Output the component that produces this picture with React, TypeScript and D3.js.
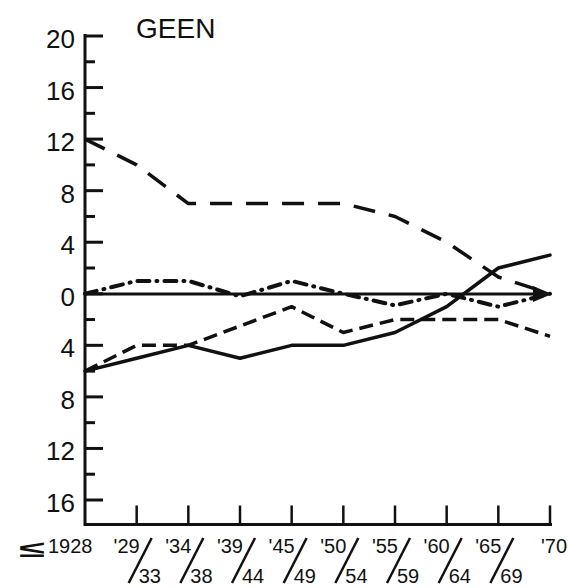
import * as d3 from "d3";

const width = 569;
const height = 588;
const axisX = 85;
const lastX = 550;
const zeroY = 294;
const bottomValue = -17.9;

// period labels along the bottom (top row / bottom row)
const periodTop = ["1928", "'29", "'34", "'39", "'45", "'50", "'55", "'60", "'65", "'70"];
const periodBottom = ["", "33", "38", "44", "49", "54", "59", "64", "69", ""];

// series (units of the y axis, negative below zero)
const longDash = [12, 10, 7, 7, 7, 7, 6, 4, 1.3, 0];
const dashDot = [0, 1, 1, -0.2, 1, 0, -0.9, 0, -1, 0];
const shortDash = [-6, -4, -4, -2.5, -1, -3, -2, -2, -2, -3.3];
const solid = [-6, -5, -4, -5, -4, -4, -3, -1, 2, 3];

const majorTicks = [20, 16, 12, 8, 4, 0, -4, -8, -12, -16];
const minorTicks = [18, 14, 10, 6, 2, -2, -6, -10, -14];

const font = "'Liberation Sans', Arial, Helvetica, sans-serif";
const ink = "#111";

const App = () => {
  const x = d3.scaleLinear().domain([0, periodTop.length - 1]).range([axisX, lastX]);
  const y = d3.scaleLinear().domain([-16, 20]).range([500, 36]);

  const line = d3
    .line<number>()
    .x((_, i) => x(i))
    .y((d) => y(d));

  const bottomY = y(bottomValue);

  const series = [
    { data: longDash, dash: "22 14", cap: "butt" as const, w: 3.5 },
    { data: shortDash, dash: "14 7", cap: "butt" as const, w: 3.5 },
    { data: dashDot, dash: "12 7 1 7", cap: "round" as const, w: 4 },
    { data: solid, dash: "none", cap: "round" as const, w: 3.5 },
  ];

  return (
    <svg
      width={width}
      height={height}
      viewBox={`0 0 ${width} ${height}`}
      style={{ position: "absolute", left: 0, top: 0, background: "#fff" }}
    >
      <rect width={width} height={height} fill="#fff" />

      {/* title */}
      <text x={136} y={38} fontFamily={font} fontSize={28} fill={ink}>
        GEEN
      </text>

      {/* y axis */}
      <line x1={axisX} x2={axisX} y1={y(20) - 2} y2={bottomY + 1.5} stroke={ink} strokeWidth={3} />
      {majorTicks.map((t) => (
        <g key={`M${t}`}>
          <line x1={axisX} x2={axisX + 18} y1={y(t)} y2={y(t)} stroke={ink} strokeWidth={3} />
          <text
            x={75}
            y={y(t) + 12}
            textAnchor="end"
            fontFamily={font}
            fontSize={26}
            fill={ink}
          >
            {Math.abs(t)}
          </text>
        </g>
      ))}
      {minorTicks.map((t) => (
        <line key={`m${t}`} x1={axisX} x2={axisX + 10} y1={y(t)} y2={y(t)} stroke={ink} strokeWidth={3} />
      ))}

      {/* x axis */}
      <line x1={axisX} x2={lastX + 2} y1={bottomY} y2={bottomY} stroke={ink} strokeWidth={3} />
      {periodTop.map((_, i) =>
        i === 0 ? null : (
          <line key={`xt${i}`} x1={x(i)} x2={x(i)} y1={bottomY} y2={bottomY - 19} stroke={ink} strokeWidth={2.5} />
        )
      )}

      {/* period labels */}
      <text
        x={19}
        y={557}
        fontFamily={font}
        fontSize={23}
        fontWeight="bold"
        fill={ink}
        textLength={26}
        lengthAdjust="spacingAndGlyphs"
      >
        ≤
      </text>
      {periodTop.map((lab, i) => {
        const tx = x(i);
        if (i === 0) {
          return (
            <text key="p0" x={48} y={553} fontFamily={font} fontSize={20} fill={ink}>
              {lab}
            </text>
          );
        }
        if (i === periodTop.length - 1) {
          return (
            <text key={`p${i}`} x={tx - 9} y={553} fontFamily={font} fontSize={20} fill={ink}>
              {lab}
            </text>
          );
        }
        return (
          <g key={`p${i}`}>
            <text x={tx + 3} y={553} textAnchor="end" fontFamily={font} fontSize={20} fill={ink}>
              {lab}
            </text>
            <line x1={tx + 15} y1={538} x2={tx - 8} y2={583} stroke={ink} strokeWidth={2.5} />
            <text x={tx + 2} y={583} fontFamily={font} fontSize={20} fill={ink}>
              {periodBottom[i]}
            </text>
          </g>
        );
      })}

      {/* zero line with arrow */}
      <line x1={axisX} x2={lastX - 14} y1={zeroY} y2={zeroY} stroke={ink} strokeWidth={3} />
      <path
        d={`M${lastX + 2},${zeroY} L${lastX - 17},${zeroY - 8} L${lastX - 17},${zeroY + 8} Z`}
        fill={ink}
      />

      {/* series */}
      {series.map((s, k) => (
        <path
          key={k}
          d={line(s.data) as string}
          fill="none"
          stroke={ink}
          strokeWidth={s.w}
          strokeDasharray={s.dash}
          strokeLinecap={s.cap}
          strokeLinejoin="round"
        />
      ))}
    </svg>
  );
};

export default App;
